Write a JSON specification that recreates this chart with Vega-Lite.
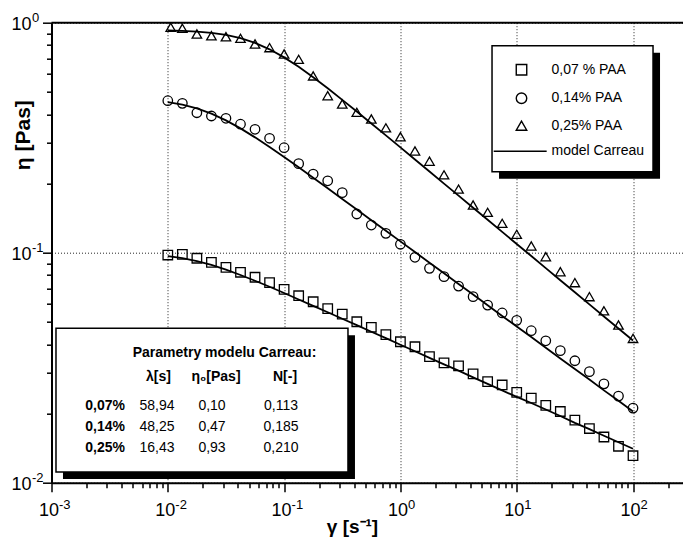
{
"$schema": "https://vega.github.io/schema/vega-lite/v6.json",
"width": 631.5, "height": 460,
"autosize": {"type": "none"},
"padding": {"left": 51.5, "top": 22.7, "right": 0, "bottom": 56.3},
"background": "white",
"config": {"font": "Liberation Sans", "view": {"stroke": null}, "text": {"font": "Liberation Sans", "color": "black"}},
"datasets": {
"obs": [
{"series":"0,07 % PAA","gamma":0.01,"eta":0.0977},{"series":"0,07 % PAA","gamma":0.01334,"eta":0.0984},{"series":"0,07 % PAA","gamma":0.01778,"eta":0.0946},{"series":"0,07 % PAA","gamma":0.02371,"eta":0.0908},{"series":"0,07 % PAA","gamma":0.03162,"eta":0.0864},{"series":"0,07 % PAA","gamma":0.04217,"eta":0.0822},{"series":"0,07 % PAA","gamma":0.05623,"eta":0.0782},{"series":"0,07 % PAA","gamma":0.07499,"eta":0.0741},{"series":"0,07 % PAA","gamma":0.1,"eta":0.0693},{"series":"0,07 % PAA","gamma":0.1334,"eta":0.0650},{"series":"0,07 % PAA","gamma":0.1778,"eta":0.0612},{"series":"0,07 % PAA","gamma":0.2371,"eta":0.0571},{"series":"0,07 % PAA","gamma":0.3162,"eta":0.0541},{"series":"0,07 % PAA","gamma":0.4217,"eta":0.0501},{"series":"0,07 % PAA","gamma":0.5623,"eta":0.0474},{"series":"0,07 % PAA","gamma":0.7499,"eta":0.0440},{"series":"0,07 % PAA","gamma":1,"eta":0.0410},{"series":"0,07 % PAA","gamma":1.334,"eta":0.0390},{"series":"0,07 % PAA","gamma":1.778,"eta":0.0353},{"series":"0,07 % PAA","gamma":2.371,"eta":0.0332},{"series":"0,07 % PAA","gamma":3.162,"eta":0.0322},{"series":"0,07 % PAA","gamma":4.217,"eta":0.0297},{"series":"0,07 % PAA","gamma":5.623,"eta":0.0275},{"series":"0,07 % PAA","gamma":7.499,"eta":0.0266},{"series":"0,07 % PAA","gamma":10,"eta":0.0247},{"series":"0,07 % PAA","gamma":13.34,"eta":0.0233},{"series":"0,07 % PAA","gamma":17.78,"eta":0.0217},{"series":"0,07 % PAA","gamma":23.71,"eta":0.0204},{"series":"0,07 % PAA","gamma":31.62,"eta":0.0187},{"series":"0,07 % PAA","gamma":42.17,"eta":0.0172},{"series":"0,07 % PAA","gamma":56.23,"eta":0.0158},{"series":"0,07 % PAA","gamma":74.99,"eta":0.0144},{"series":"0,07 % PAA","gamma":100,"eta":0.0131},
{"series":"0,14% PAA","gamma":0.01,"eta":0.458},{"series":"0,14% PAA","gamma":0.01334,"eta":0.446},{"series":"0,14% PAA","gamma":0.01778,"eta":0.406},{"series":"0,14% PAA","gamma":0.02371,"eta":0.393},{"series":"0,14% PAA","gamma":0.03162,"eta":0.384},{"series":"0,14% PAA","gamma":0.04217,"eta":0.362},{"series":"0,14% PAA","gamma":0.05623,"eta":0.344},{"series":"0,14% PAA","gamma":0.07499,"eta":0.3144},{"series":"0,14% PAA","gamma":0.1,"eta":0.2861},{"series":"0,14% PAA","gamma":0.1334,"eta":0.2438},{"series":"0,14% PAA","gamma":0.1778,"eta":0.2195},{"series":"0,14% PAA","gamma":0.2371,"eta":0.2054},{"series":"0,14% PAA","gamma":0.3162,"eta":0.1824},{"series":"0,14% PAA","gamma":0.4217,"eta":0.1473},{"series":"0,14% PAA","gamma":0.5623,"eta":0.1319},{"series":"0,14% PAA","gamma":0.7499,"eta":0.1214},{"series":"0,14% PAA","gamma":1,"eta":0.1088},{"series":"0,14% PAA","gamma":1.334,"eta":0.0955},{"series":"0,14% PAA","gamma":1.778,"eta":0.0855},{"series":"0,14% PAA","gamma":2.371,"eta":0.0787},{"series":"0,14% PAA","gamma":3.162,"eta":0.0716},{"series":"0,14% PAA","gamma":4.217,"eta":0.0644},{"series":"0,14% PAA","gamma":5.623,"eta":0.0592},{"series":"0,14% PAA","gamma":7.499,"eta":0.0547},{"series":"0,14% PAA","gamma":10,"eta":0.0508},{"series":"0,14% PAA","gamma":13.34,"eta":0.0458},{"series":"0,14% PAA","gamma":17.78,"eta":0.0414},{"series":"0,14% PAA","gamma":23.71,"eta":0.0375},{"series":"0,14% PAA","gamma":31.62,"eta":0.0339},{"series":"0,14% PAA","gamma":42.17,"eta":0.0304},{"series":"0,14% PAA","gamma":56.23,"eta":0.0269},{"series":"0,14% PAA","gamma":74.99,"eta":0.0238},{"series":"0,14% PAA","gamma":100,"eta":0.0211},
{"series":"0,25% PAA","gamma":0.0106,"eta":0.955},{"series":"0,25% PAA","gamma":0.01334,"eta":0.9456},{"series":"0,25% PAA","gamma":0.01778,"eta":0.893},{"series":"0,25% PAA","gamma":0.02371,"eta":0.878},{"series":"0,25% PAA","gamma":0.03162,"eta":0.869},{"series":"0,25% PAA","gamma":0.04217,"eta":0.855},{"series":"0,25% PAA","gamma":0.05623,"eta":0.808},{"series":"0,25% PAA","gamma":0.07499,"eta":0.779},{"series":"0,25% PAA","gamma":0.1,"eta":0.731},{"series":"0,25% PAA","gamma":0.1334,"eta":0.693},{"series":"0,25% PAA","gamma":0.1778,"eta":0.587},{"series":"0,25% PAA","gamma":0.2371,"eta":0.4816},{"series":"0,25% PAA","gamma":0.3162,"eta":0.443},{"series":"0,25% PAA","gamma":0.4217,"eta":0.4077},{"series":"0,25% PAA","gamma":0.5623,"eta":0.3814},{"series":"0,25% PAA","gamma":0.7499,"eta":0.349},{"series":"0,25% PAA","gamma":1,"eta":0.3193},{"series":"0,25% PAA","gamma":1.334,"eta":0.277},{"series":"0,25% PAA","gamma":1.778,"eta":0.250},{"series":"0,25% PAA","gamma":2.371,"eta":0.218},{"series":"0,25% PAA","gamma":3.162,"eta":0.189},{"series":"0,25% PAA","gamma":4.217,"eta":0.1612},{"series":"0,25% PAA","gamma":5.623,"eta":0.1498},{"series":"0,25% PAA","gamma":7.499,"eta":0.1342},{"series":"0,25% PAA","gamma":10,"eta":0.1202},{"series":"0,25% PAA","gamma":13.34,"eta":0.1070},{"series":"0,25% PAA","gamma":17.78,"eta":0.0961},{"series":"0,25% PAA","gamma":23.71,"eta":0.0827},{"series":"0,25% PAA","gamma":31.62,"eta":0.0741},{"series":"0,25% PAA","gamma":42.17,"eta":0.0644},{"series":"0,25% PAA","gamma":56.23,"eta":0.0559},{"series":"0,25% PAA","gamma":74.99,"eta":0.0485},{"series":"0,25% PAA","gamma":100,"eta":0.0424}
],
"model": [
{"series":"A","gamma":0.01,"eta":0.0967},{"series":"A","gamma":0.01334,"eta":0.0947},{"series":"A","gamma":0.01778,"eta":0.0920},{"series":"A","gamma":0.02371,"eta":0.0885},{"series":"A","gamma":0.03162,"eta":0.0844},{"series":"A","gamma":0.04217,"eta":0.0800},{"series":"A","gamma":0.05623,"eta":0.0755},{"series":"A","gamma":0.07499,"eta":0.0711},{"series":"A","gamma":0.1,"eta":0.0668},{"series":"A","gamma":0.1334,"eta":0.0626},{"series":"A","gamma":0.1778,"eta":0.0587},{"series":"A","gamma":0.2371,"eta":0.0551},{"series":"A","gamma":0.3162,"eta":0.0516},{"series":"A","gamma":0.4217,"eta":0.0484},{"series":"A","gamma":0.5623,"eta":0.0453},{"series":"A","gamma":0.7499,"eta":0.0425},{"series":"A","gamma":1,"eta":0.0398},{"series":"A","gamma":1.334,"eta":0.0373},{"series":"A","gamma":1.778,"eta":0.0349},{"series":"A","gamma":2.371,"eta":0.0327},{"series":"A","gamma":3.162,"eta":0.0307},{"series":"A","gamma":4.217,"eta":0.0287},{"series":"A","gamma":5.623,"eta":0.0269},{"series":"A","gamma":7.499,"eta":0.0252},{"series":"A","gamma":10,"eta":0.0236},{"series":"A","gamma":13.34,"eta":0.0222},{"series":"A","gamma":17.78,"eta":0.0208},{"series":"A","gamma":23.71,"eta":0.0195},{"series":"A","gamma":31.62,"eta":0.0182},{"series":"A","gamma":42.17,"eta":0.0171},{"series":"A","gamma":56.23,"eta":0.0160},{"series":"A","gamma":74.99,"eta":0.0150},{"series":"A","gamma":100,"eta":0.01405},
{"series":"B","gamma":0.01,"eta":0.4520},{"series":"B","gamma":0.01334,"eta":0.4408},{"series":"B","gamma":0.01778,"eta":0.4244},{"series":"B","gamma":0.02371,"eta":0.4026},{"series":"B","gamma":0.03162,"eta":0.3762},{"series":"B","gamma":0.04217,"eta":0.3472},{"series":"B","gamma":0.05623,"eta":0.3173},{"series":"B","gamma":0.07499,"eta":0.2881},{"series":"B","gamma":0.1,"eta":0.2604},{"series":"B","gamma":0.1334,"eta":0.2350},{"series":"B","gamma":0.1778,"eta":0.2117},{"series":"B","gamma":0.2371,"eta":0.1905},{"series":"B","gamma":0.3162,"eta":0.1713},{"series":"B","gamma":0.4217,"eta":0.1541},{"series":"B","gamma":0.5623,"eta":0.1385},{"series":"B","gamma":0.7499,"eta":0.1246},{"series":"B","gamma":1,"eta":0.1120},{"series":"B","gamma":1.334,"eta":0.1007},{"series":"B","gamma":1.778,"eta":0.0905},{"series":"B","gamma":2.371,"eta":0.0814},{"series":"B","gamma":3.162,"eta":0.0731},{"series":"B","gamma":4.217,"eta":0.0658},{"series":"B","gamma":5.623,"eta":0.0591},{"series":"B","gamma":7.499,"eta":0.0531},{"series":"B","gamma":10,"eta":0.0478},{"series":"B","gamma":13.34,"eta":0.0430},{"series":"B","gamma":17.78,"eta":0.0386},{"series":"B","gamma":23.71,"eta":0.0347},{"series":"B","gamma":31.62,"eta":0.0312},{"series":"B","gamma":42.17,"eta":0.0281},{"series":"B","gamma":56.23,"eta":0.0252},{"series":"B","gamma":74.99,"eta":0.0227},{"series":"B","gamma":100,"eta":0.0204},
{"series":"C","gamma":0.01,"eta":0.9249},{"series":"C","gamma":0.01334,"eta":0.9209},{"series":"C","gamma":0.01778,"eta":0.9142},{"series":"C","gamma":0.02371,"eta":0.9029},{"series":"C","gamma":0.03162,"eta":0.8845},{"series":"C","gamma":0.04217,"eta":0.8563},{"series":"C","gamma":0.05623,"eta":0.8170},{"series":"C","gamma":0.07499,"eta":0.7661},{"series":"C","gamma":0.1,"eta":0.7066},{"series":"C","gamma":0.1334,"eta":0.6429},{"series":"C","gamma":0.1778,"eta":0.5792},{"series":"C","gamma":0.2371,"eta":0.5184},{"series":"C","gamma":0.3162,"eta":0.4620},{"series":"C","gamma":0.4217,"eta":0.4108},{"series":"C","gamma":0.5623,"eta":0.3647},{"series":"C","gamma":0.7499,"eta":0.3235},{"series":"C","gamma":1,"eta":0.2869},{"series":"C","gamma":1.334,"eta":0.2542},{"series":"C","gamma":1.778,"eta":0.2253},{"series":"C","gamma":2.371,"eta":0.1997},{"series":"C","gamma":3.162,"eta":0.1770},{"series":"C","gamma":4.217,"eta":0.1568},{"series":"C","gamma":5.623,"eta":0.1390},{"series":"C","gamma":7.499,"eta":0.1232},{"series":"C","gamma":10,"eta":0.1091},{"series":"C","gamma":13.34,"eta":0.0967},{"series":"C","gamma":17.78,"eta":0.0857},{"series":"C","gamma":23.71,"eta":0.0759},{"series":"C","gamma":31.62,"eta":0.0673},{"series":"C","gamma":42.17,"eta":0.0596},{"series":"C","gamma":56.23,"eta":0.0528},{"series":"C","gamma":74.99,"eta":0.0468},{"series":"C","gamma":100,"eta":0.0415}
],
"params": [
{"conc":"0,07%","lambda":"58,94","eta0":"0,10","N":"0,113"},
{"conc":"0,14%","lambda":"48,25","eta0":"0,47","N":"0,185"},
{"conc":"0,25%","lambda":"16,43","eta0":"0,93","N":"0,210"}
]
},
"layer": [
{"layer": [
  {"data": {"values": [{}]},
   "mark": {"type": "rect", "fill": "black", "xOffset": 7, "x2Offset": 7, "yOffset": 7, "y2Offset": 7},
   "encoding": {
     "x": {"datum": 0.001093, "axis": {"orient": "bottom", "values": [0.001,0.01,0.1,1,10,100],
        "labelExpr": "['-3','-2','-1','0','1','2'][round(log(datum.value)/LN10)+3]",
        "labelFont": "Liberation Sans", "labelFontSize": 13, "labelColor": "black", "labelAlign": "left", "labelBaseline": "top",
        "labelOffset": 7, "labelPadding": 16, "labelFlush": false, "labelOverlap": false,
        "ticks": false, "tickSize": 0, "domain": false, "grid": false, "title": null}},
     "x2": {"datum": 0.3541},
     "y": {"datum": 0.04691, "axis": {"orient": "left", "values": [0.01,0.1,1],
        "labelExpr": "['-3','-2','-1','0','1','2'][round(log(datum.value)/LN10)+3]",
        "labelFont": "Liberation Sans", "labelFontSize": 13, "labelColor": "black", "labelAlign": "left", "labelBaseline": "middle",
        "labelOffset": -5, "labelPadding": 20, "labelFlush": false, "labelOverlap": false,
        "ticks": false, "tickSize": 0, "domain": false, "grid": false, "title": null}},
     "y2": {"datum": 0.01113}}},
  {"data": {"values": [{}]},
   "mark": {"type": "rect", "fill": "white", "stroke": "black", "strokeWidth": 1.5},
   "encoding": {"x": {"datum": 0.001093, "axis": null}, "x2": {"datum": 0.3541}, "y": {"datum": 0.04691, "axis": null}, "y2": {"datum": 0.01113}}},
  {"data": {"values": [{}]},
   "mark": {"type": "rect", "fill": "black", "xOffset": 7, "x2Offset": 7, "yOffset": 7, "y2Offset": 7},
   "encoding": {"x": {"datum": 6.134, "axis": null}, "x2": {"datum": 148.6}, "y": {"datum": 0.7943, "axis": null}, "y2": {"datum": 0.2250}}},
  {"data": {"values": [{}]},
   "mark": {"type": "rect", "fill": "white", "stroke": "black", "strokeWidth": 1.5},
   "encoding": {"x": {"datum": 6.134, "axis": null}, "x2": {"datum": 148.6}, "y": {"datum": 0.7943, "axis": null}, "y2": {"datum": 0.2250}}},
  {"data": {"name": "model"},
   "mark": {"type": "line", "color": "black", "strokeWidth": 1.8},
   "encoding": {
     "x": {"field": "gamma", "type": "quantitative", "scale": {"type": "log", "domain": [0.001, 269], "nice": false},
       "axis": {"orient": "bottom", "values": [0.002,0.003,0.004,0.005,0.006,0.007,0.008,0.009,0.02,0.03,0.04,0.05,0.06,0.07,0.08,0.09,0.2,0.3,0.4,0.5,0.6,0.7,0.8,0.9,2,3,4,5,6,7,8,9,20,30,40,50,60,70,80,90,200],
         "labels": false, "domain": false, "grid": false, "title": null, "tickColor": "black", "tickWidth": 1.5, "tickSize": 5}},
     "y": {"field": "eta", "type": "quantitative", "scale": {"type": "log", "domain": [0.01, 1], "nice": false},
       "axis": {"orient": "left", "values": [0.02,0.03,0.04,0.05,0.06,0.07,0.08,0.09,0.2,0.3,0.4,0.5,0.6,0.7,0.8,0.9],
         "labels": false, "domain": false, "grid": false, "title": null, "tickColor": "black", "tickWidth": 1.5, "tickSize": 5}},
     "detail": {"field": "series"}}},
  {"data": {"name": "obs"},
   "mark": {"type": "point", "filled": false, "stroke": "black", "strokeWidth": 1.3, "size": 90, "opacity": 1},
   "encoding": {
     "x": {"field": "gamma", "type": "quantitative", "scale": {"type": "log", "domain": [0.001, 269], "nice": false},
       "axis": {
         "orient": "bottom",
         "values": [0.001,0.01,0.1,1,10,100],
         "labelExpr": "'10'",
         "labelFont": "Liberation Sans", "labelFontSize": 18, "labelColor": "black", "labelPadding": 10, "labelOffset": -3, "labelFlush": false, "labelOverlap": false,
         "tickColor": "black", "tickWidth": 1.5, "tickSize": 9,
         "domainColor": "black", "domainWidth": 2,
         "grid": true, "gridColor": "black", "gridWidth": 1, "gridDash": [1, 2], "gridOpacity": 0.85,
         "title": "γ [s⁻¹]", "titleFont": "Liberation Sans", "titleFontSize": 19, "titleFontWeight": "bold", "titleColor": "black",
         "titleX": 300.5, "titleY": 50, "titleBaseline": "alphabetic", "titleAlign": "center"
       }},
     "y": {"field": "eta", "type": "quantitative", "scale": {"type": "log", "domain": [0.01, 1], "nice": false},
       "axis": {
         "orient": "left",
         "values": [0.01,0.1,1],
         "labelExpr": "'10'",
         "labelFont": "Liberation Sans", "labelFontSize": 18, "labelColor": "black", "labelPadding": 11.5, "labelOffset": 2, "labelFlush": false, "labelOverlap": false,
         "tickColor": "black", "tickWidth": 1.5, "tickSize": 9,
         "domainColor": "black", "domainWidth": 2,
         "grid": true, "gridColor": "black", "gridWidth": 1, "gridDash": [1, 2], "gridOpacity": 0.85,
         "title": "η [Pas]", "titleFont": "Liberation Sans", "titleFontSize": 21, "titleFontWeight": "bold", "titleColor": "black",
         "titleX": -28, "titleY": 112, "titleAngle": 270, "titleBaseline": "middle", "titleAlign": "center"
       }},
     "shape": {"field": "series", "type": "nominal",
       "scale": {"domain": ["0,07 % PAA", "0,14% PAA", "0,25% PAA", "model Carreau"], "range": ["square", "circle", "triangle-up", "M-5.3,0H4.8"]},
       "legend": {"orient": "none", "legendX": 463, "legendY": 40, "title": null, "labelFont": "Liberation Sans", "labelFontSize": 14, "labelColor": "black",
         "labelOffset": 23, "labelLimit": 300, "symbolSize": 110, "symbolStrokeWidth": 1.4, "symbolStrokeColor": "black", "rowPadding": 10.5, "padding": 0}}
   }},
  {"data": {"values": [{}]},
   "mark": {"type": "rule", "color": "black", "strokeWidth": 2},
   "encoding": {"y": {"datum": 1, "axis": null}}},
  {"data": {"values": [{}]},
   "mark": {"type": "text", "fontWeight": "bold", "fontSize": 14, "align": "center", "baseline": "middle", "text": "Parametry modelu Carreau:"},
   "encoding": {"x": {"datum": 0.03073, "axis": null}, "y": {"datum": 0.03664, "axis": null}}},
  {"data": {"values": [{}]},
   "mark": {"type": "text", "fontWeight": "bold", "fontSize": 14, "align": "center", "baseline": "middle", "text": "λ[s]"},
   "encoding": {"x": {"datum": 0.00830, "axis": null}, "y": {"datum": 0.02881, "axis": null}}},
  {"data": {"values": [{}]},
   "mark": {"type": "text", "fontWeight": "bold", "fontSize": 14, "align": "center", "baseline": "middle", "text": "η₀[Pas]"},
   "encoding": {"x": {"datum": 0.02597, "axis": null}, "y": {"datum": 0.02881, "axis": null}}},
  {"data": {"values": [{}]},
   "mark": {"type": "text", "fontWeight": "bold", "fontSize": 14, "align": "center", "baseline": "middle", "text": "N[-]"},
   "encoding": {"x": {"datum": 0.1018, "axis": null}, "y": {"datum": 0.02881, "axis": null}}}
 ],
 "resolve": {"axis": {"x": "independent", "y": "independent"}}
},
{"data": {"name": "params"},
 "encoding": {"y": {"field": "conc", "type": "nominal", "scale": {"type": "point", "domain": ["0,07%", "0,14%", "0,25%"], "range": [383.3, 425.3], "padding": 0}, "axis": null}},
 "layer": [
  {"mark": {"type": "text", "fontWeight": "bold", "fontSize": 14, "align": "right", "baseline": "middle"},
   "encoding": {"x": {"datum": 0.004285, "axis": null}, "text": {"field": "conc"}}},
  {"mark": {"type": "text", "fontSize": 14, "align": "center", "baseline": "middle"},
   "encoding": {"x": {"datum": 0.008073, "axis": null}, "text": {"field": "lambda"}}},
  {"mark": {"type": "text", "fontSize": 14, "align": "center", "baseline": "middle"},
   "encoding": {"x": {"datum": 0.02399, "axis": null}, "text": {"field": "eta0"}}},
  {"mark": {"type": "text", "fontSize": 14, "align": "center", "baseline": "middle"},
   "encoding": {"x": {"datum": 0.09404, "axis": null}, "text": {"field": "N"}}}
 ]}
],
"resolve": {"scale": {"y": "independent"}}
}
